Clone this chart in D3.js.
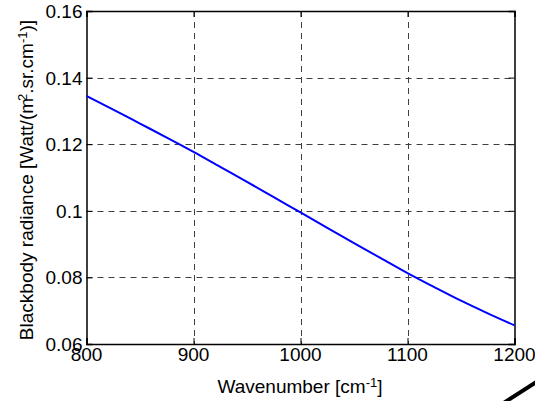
<!DOCTYPE html>
<html><head><meta charset="utf-8">
<script src="https://cdn.jsdelivr.net/npm/d3@7"></script>
<style>
html,body{margin:0;padding:0;background:#fff;}
svg{display:block;font-family:Arial,"Liberation Sans",Helvetica,sans-serif;}
</style></head>
<body>
<svg id="chart" width="535" height="401"></svg>
<script>
const wavenumbers = [800,825,850,875,900,925,950,975,1000,1025,1050,1075,1100,1125,1150,1175,1200];
const radiance = [0.1345,0.1304,0.1262,0.1220,0.1177,0.1132,0.1087,0.1041,0.0995,0.0949,0.0903,0.0858,0.0813,0.0771,0.0730,0.0692,0.0656];
const xTicks = [800,900,1000,1100,1200];
const yTicks = [0.06,0.08,0.1,0.12,0.14,0.16];
const yTickLabels = ["0.06","0.08","0.1","0.12","0.14","0.16"];

const svg = d3.select("#chart");
const L = 86.5, R = 514.5, T = 11, B = 344;
const x = d3.scaleLinear().domain([800,1200]).range([L,R]);
const y = d3.scaleLinear().domain([0.06,0.16]).range([B,T]);
const fs = 19;

// grid
const gx = svg.append("g");
gx.selectAll("line.vx").data(xTicks.slice(1,-1)).join("line")
  .attr("x1",d=>Math.round(x(d))+0.5).attr("x2",d=>Math.round(x(d))+0.5)
  .attr("y1",T).attr("y2",B)
  .attr("stroke","#404040").attr("stroke-width",1).attr("stroke-dasharray","6,5");
gx.selectAll("line.hy").data(yTicks.slice(1,-1)).join("line")
  .attr("y1",d=>Math.round(y(d))+0.5).attr("y2",d=>Math.round(y(d))+0.5)
  .attr("x1",L).attr("x2",R)
  .attr("stroke","#404040").attr("stroke-width",1).attr("stroke-dasharray","6,5");

// axes with inward ticks
const xAxisB = d3.axisBottom(x).tickValues(xTicks).tickSize(-6).tickFormat("");
const xAxisT = d3.axisTop(x).tickValues(xTicks).tickSize(-6).tickFormat("");
const yAxisL = d3.axisLeft(y).tickValues(yTicks).tickSize(-6).tickFormat("");
const yAxisR = d3.axisRight(y).tickValues(yTicks).tickSize(-6).tickFormat("");
[[xAxisB,`translate(0,${B})`],[xAxisT,`translate(0,${T})`],[yAxisL,`translate(${L},0)`],[yAxisR,`translate(${R},0)`]].forEach(([ax,tr])=>{
  const g = svg.append("g").attr("transform",tr).call(ax);
  g.selectAll("path.domain").attr("stroke","#000").attr("stroke-width",1.5);
  g.selectAll(".tick line").attr("stroke","#000").attr("stroke-width",1);
});

// tick labels
svg.append("g").selectAll("text").data(xTicks).join("text")
  .attr("x",d=>x(d)).attr("y",B+17).attr("text-anchor","middle")
  .attr("font-size",fs).attr("fill","#000").text(d=>d);
svg.append("g").selectAll("text").data(yTicks).join("text")
  .attr("x",L-4).attr("y",d=>y(d)+7).attr("text-anchor","end")
  .attr("font-size",fs).attr("fill","#000").text((d,i)=>yTickLabels[i]);

// line
svg.append("path").datum(wavenumbers.map((w,i)=>[w,radiance[i]]))
  .attr("fill","none").attr("stroke","#0000ff").attr("stroke-width",2)
  .attr("d", d3.line().curve(d3.curveMonotoneX).x(d=>x(d[0])).y(d=>y(d[1])));

// x label
const xl = svg.append("text").attr("x",300).attr("y",393).attr("text-anchor","middle")
  .attr("font-size",fs).attr("fill","#000");
xl.append("tspan").text("Wavenumber [cm");
xl.append("tspan").attr("font-size",13).attr("baseline-shift","45%").text("-1");
xl.append("tspan").text("]");

// y label
const yl = svg.append("text").attr("transform","translate(33,180) rotate(-90)")
  .attr("text-anchor","middle").attr("font-size",fs).attr("fill","#000");
yl.append("tspan").text("Blackbody radiance [Watt/(m");
yl.append("tspan").attr("font-size",13).attr("baseline-shift","45%").attr("dx",-3).text("2");
yl.append("tspan").text(".sr.cm");
yl.append("tspan").attr("font-size",13).attr("baseline-shift","45%").text("-1");
yl.append("tspan").text(")]");

// stray stroke at bottom right
svg.append("path").attr("d","M502,404 L538,381").attr("fill","none")
  .attr("stroke","#000").attr("stroke-width",4);
</script>
</body></html>
